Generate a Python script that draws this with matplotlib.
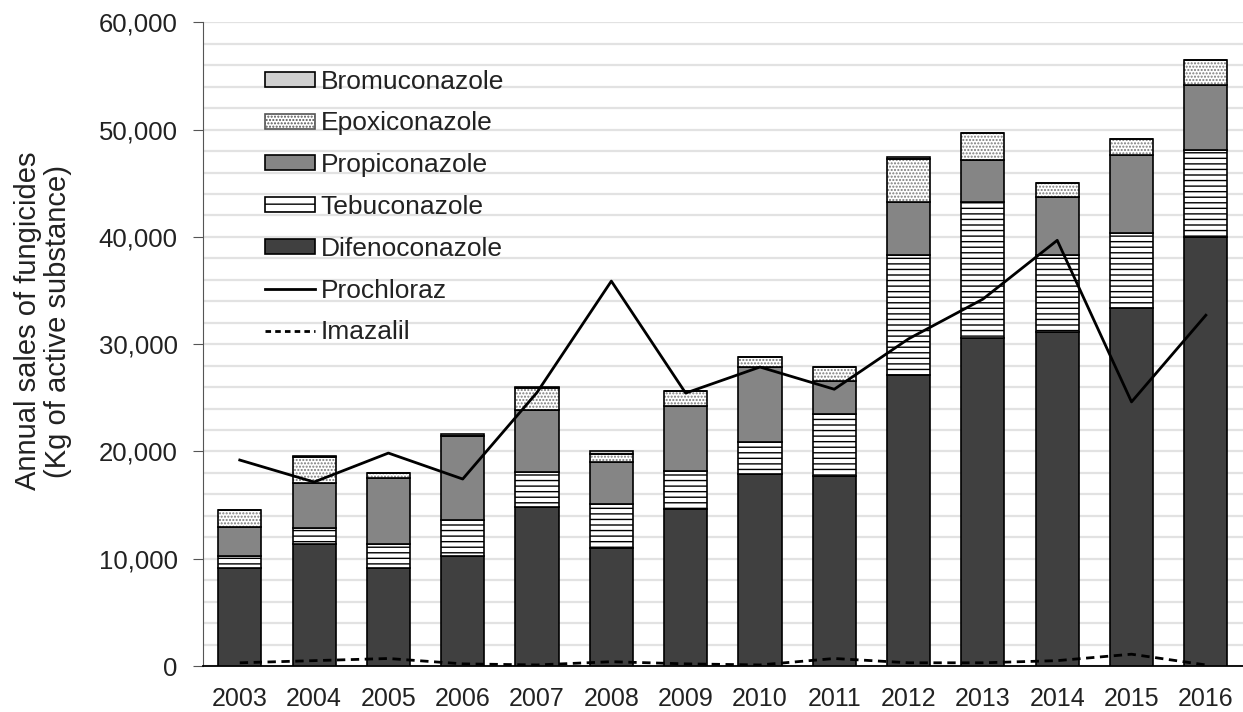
import matplotlib
matplotlib.use("Agg")
import matplotlib.pyplot as plt
import numpy as np
from matplotlib.patches import Patch
from matplotlib.lines import Line2D
from matplotlib.ticker import FuncFormatter, MultipleLocator

plt.rcParams['font.family'] = ['Liberation Sans', 'DejaVu Sans']

years = ['2003', '2004', '2005', '2006', '2007', '2008', '2009', '2010',
         '2011', '2012', '2013', '2014', '2015', '2016']
difenoconazole = [9100, 11340, 9160, 10250, 14800, 11030, 14660, 17890,
                  17740, 27160, 30530, 31140, 33400, 40010]
tebuconazole = [1200, 1550, 2210, 3360, 3300, 4040, 3540, 3010,
                5720, 11170, 12720, 7190, 6980, 8080]
propiconazole = [2700, 4200, 6180, 7800, 5800, 3910, 6030, 7000,
                 3100, 4920, 3940, 5370, 7220, 6030]
epoxiconazole = [1550, 2400, 470, 0, 2000, 780, 1430, 870,
                 1340, 4000, 2460, 1310, 1520, 2380]
bromuconazole = [0, 100, 0, 200, 150, 250, 0, 0,
                 0, 200, 0, 0, 0, 0]
prochloraz = [19200, 17150, 19850, 17430, 25500, 35880, 25440, 27870,
              25800, 30500, 34200, 39680, 24620, 32700]
imazalil = [300, 500, 700, 200, 100, 400, 200, 100,
            700, 300, 300, 500, 1100, 100]

fig = plt.figure(figsize=(12.43, 7.12), dpi=100)
ax = fig.add_axes([0.163, 0.0646, 0.837, 0.904])

x = np.arange(len(years))
w = 0.58
plt.rcParams['hatch.linewidth'] = 1.0

d = np.array(difenoconazole, float)
t = np.array(tebuconazole, float)
p = np.array(propiconazole, float)
e = np.array(epoxiconazole, float)
b = np.array(bromuconazole, float)

ax.bar(x, d, w, color='#404040', edgecolor='black', linewidth=1.2, zorder=3)
ax.bar(x, t, w, bottom=d, color='white', edgecolor='black', linewidth=1.2,
       hatch='---', zorder=3)
ax.bar(x, p, w, bottom=d + t, color='#858585', edgecolor='black', linewidth=1.2, zorder=3)
# epoxiconazole: stipple in grey, then black outline
ax.bar(x, e, w, bottom=d + t + p, color='white', edgecolor='#7a7a7a', linewidth=0,
       hatch='.....', zorder=3)
ax.bar(x, e, w, bottom=d + t + p, color='none', edgecolor='black', linewidth=1.2, zorder=3.1)
ax.bar(x, b, w, bottom=d + t + p + e, color='#d0d0d0', edgecolor='black', linewidth=1.2, zorder=3)

ax.plot(x, prochloraz, color='black', linewidth=2.0, zorder=4)
ax.plot(x, imazalil, color='black', linewidth=2.0, linestyle=(0, (3, 2)), zorder=4)

ax.set_xlim(-0.5, len(years) - 0.5)
ax.set_ylim(0, 60000)
ax.yaxis.set_major_locator(MultipleLocator(10000))
ax.yaxis.set_minor_locator(MultipleLocator(2000))
ax.yaxis.set_major_formatter(FuncFormatter(lambda v, pos: f"{int(v):,}"))
ax.grid(axis='y', which='both', color='#e2e2e2', linewidth=1.6, zorder=0)
ax.set_axisbelow(True)
ax.set_xticks(x)
ax.set_xticklabels(years)
ax.tick_params(axis='x', length=0, labelsize=18, pad=15, labelcolor='#222222')
ax.tick_params(axis='y', which='major', length=7, labelsize=18.5, pad=11,
               direction='out', color='#555555', labelcolor='#222222')
ax.tick_params(axis='y', which='minor', length=0)
for s in ['top', 'right']:
    ax.spines[s].set_visible(False)
ax.spines['left'].set_color('#555555')
ax.spines['bottom'].set_color('black')
ax.spines['bottom'].set_linewidth(1.3)

fig.text(43 / 1243, 1 - 321 / 712,
         'Annual sales of fungicides\n(Kg of active substance)',
         rotation=90, ha='center', va='center', fontsize=21,
         color='#222222', linespacing=1.1)

handles = [
    Patch(facecolor='#d0d0d0', edgecolor='black', linewidth=1.2),
    Patch(facecolor='white', edgecolor='#555555', linewidth=1.2, hatch='.....'),
    Patch(facecolor='#858585', edgecolor='black', linewidth=1.2),
    Patch(facecolor='white', edgecolor='black', linewidth=1.2, hatch='--'),
    Patch(facecolor='#404040', edgecolor='black', linewidth=1.2),
    Line2D([0], [0], color='black', linewidth=2.0),
    Line2D([0], [0], color='black', linewidth=2.0, linestyle=(0, (2, 1.5))),
]
labels = ['Bromuconazole', 'Epoxiconazole', 'Propiconazole', 'Tebuconazole',
          'Difenoconazole', 'Prochloraz', 'Imazalil']
leg = ax.legend(handles, labels, loc='upper left', bbox_to_anchor=(0.05, 0.943),
                frameon=False, fontsize=19, handlelength=1.9, handleheight=0.5,
                handletextpad=0.2, labelspacing=0.675, borderaxespad=0,
                labelcolor='#222222')
leg.set_zorder(5)

fig.savefig('out.png', dpi=100)
